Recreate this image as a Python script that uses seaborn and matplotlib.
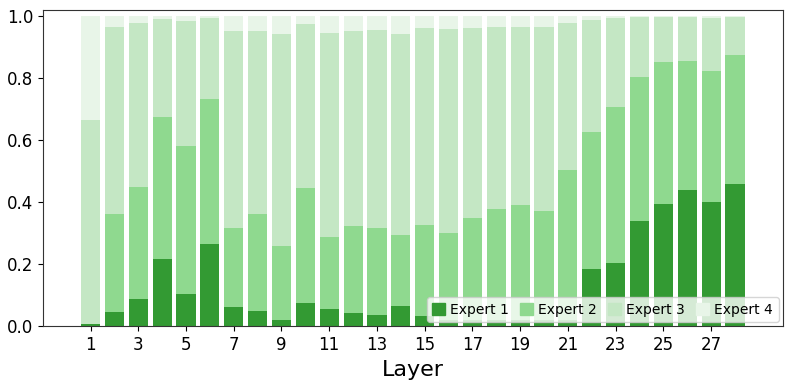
import numpy as np
import pandas as pd
import seaborn as sns
import matplotlib
matplotlib.use('Agg')
import matplotlib.pyplot as plt
from matplotlib.patches import Patch

layers = list(range(1, 29))

# share of tokens routed to each expert, per layer
expert1 = [0.008, 0.047, 0.089, 0.216, 0.105, 0.265, 0.063, 0.050, 0.020, 0.075,
           0.056, 0.043, 0.037, 0.065, 0.032, 0.022, 0.022, 0.022, 0.022, 0.022,
           0.022, 0.186, 0.204, 0.340, 0.393, 0.439, 0.401, 0.458]
expert2 = [0.000, 0.315, 0.359, 0.458, 0.477, 0.467, 0.254, 0.311, 0.238, 0.370,
           0.233, 0.282, 0.280, 0.230, 0.296, 0.278, 0.326, 0.356, 0.368, 0.351,
           0.481, 0.440, 0.504, 0.465, 0.459, 0.415, 0.423, 0.417]
expert3 = [0.657, 0.603, 0.529, 0.316, 0.402, 0.262, 0.634, 0.592, 0.683, 0.529,
           0.655, 0.628, 0.637, 0.647, 0.632, 0.657, 0.614, 0.587, 0.576, 0.592,
           0.473, 0.361, 0.285, 0.192, 0.145, 0.143, 0.169, 0.122]
expert4 = [0.335, 0.035, 0.023, 0.010, 0.016, 0.006, 0.049, 0.047, 0.059, 0.026,
           0.056, 0.047, 0.046, 0.058, 0.040, 0.043, 0.038, 0.035, 0.034, 0.035,
           0.024, 0.013, 0.007, 0.003, 0.003, 0.003, 0.007, 0.003]

names = ['Expert 1', 'Expert 2', 'Expert 3', 'Expert 4']
colors = ['#339a33', '#8fd98f', '#c4e7c4', '#e8f5e8']

df = pd.DataFrame({'Layer': layers, 'Expert 1': expert1, 'Expert 2': expert2,
                   'Expert 3': expert3, 'Expert 4': expert4})

fig, ax = plt.subplots(figsize=(7.93, 3.9), dpi=100)
fig.subplots_adjust(left=0.054, right=0.987, top=0.975, bottom=0.163)

# stacked bars: draw cumulative totals from the top down
for k in range(3, -1, -1):
    top = df[names[:k + 1]].sum(axis=1)
    sns.barplot(x=df['Layer'], y=top, color=colors[k], width=0.8,
                native_scale=True, saturation=1, ax=ax)

ax.set_xlim(-1, 30)
ax.set_ylim(0, 1.02)
ax.set_xticks(range(1, 28, 2))
ax.set_yticks(np.arange(0, 1.01, 0.2))
ax.tick_params(labelsize=12)
ax.set_xlabel('Layer', fontsize=16)
ax.set_ylabel('')
for s in ax.spines.values():
    s.set_color('#333333')

handles = [Patch(color=c, label=n) for c, n in zip(colors, names)]
ax.legend(handles=handles, loc='lower right', ncol=4, fontsize=10,
          handlelength=0.9, handleheight=0.9, handletextpad=0.4,
          columnspacing=0.8, borderpad=0.4, framealpha=0.8,
          borderaxespad=0.3)

plt.savefig('out.png', dpi=100)
